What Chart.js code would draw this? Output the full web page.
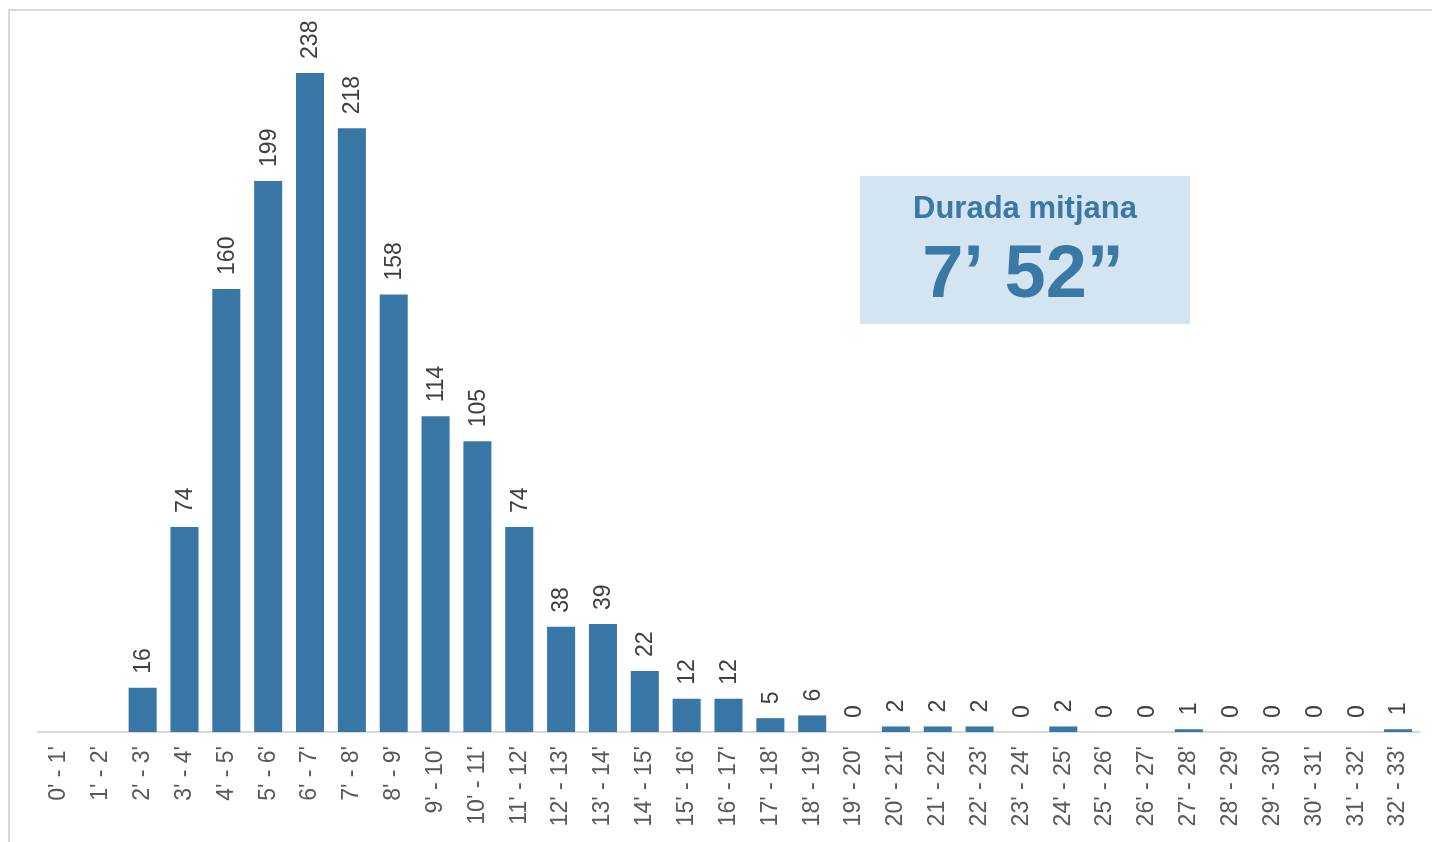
<!DOCTYPE html>
<html>
<head>
<meta charset="utf-8">
<script src="https://cdn.jsdelivr.net/npm/chart.js@4.4.1/dist/chart.umd.min.js"></script>
<style>
  html, body { margin: 0; padding: 0; background: #fff; }
  #wrap { width: 1432px; height: 842px; }
</style>
</head>
<body>
<div id="wrap"><canvas id="durades" width="1432" height="842"></canvas></div>
<script>
const categories = [
  "0' - 1'", "1' - 2'", "2' - 3'", "3' - 4'", "4' - 5'", "5' - 6'", "6' - 7'", "7' - 8'",
  "8' - 9'", "9' - 10'", "10' - 11'", "11' - 12'", "12' - 13'", "13' - 14'", "14' - 15'",
  "15' - 16'", "16' - 17'", "17' - 18'", "18' - 19'", "19' - 20'", "20' - 21'", "21' - 22'",
  "22' - 23'", "23' - 24'", "24' - 25'", "25' - 26'", "26' - 27'", "27' - 28'", "28' - 29'",
  "29' - 30'", "30' - 31'", "31' - 32'", "32' - 33'"
]
// first two intervals have no value in the source (no label shown)
const counts = [null, null, 16, 74, 160, 199, 238, 218, 158, 114, 105, 74, 38, 39, 22, 12, 12, 5, 6,
  0, 2, 2, 2, 0, 2, 0, 0, 1, 0, 0, 0, 0, 1]
const boxTitle = 'Durada mitjana'
const boxValue = '7\u2019 52\u201d'

const blue = '#3877a5'
const font = '"Liberation Sans", Arial, sans-serif'

// frame lines, value labels and the "durada mitjana" box
const extras = {
  id: 'extras',
  beforeDraw(chart) {
    const ctx = chart.ctx
    ctx.save()
    ctx.strokeStyle = '#d9d9d9'
    ctx.lineWidth = 2
    ctx.beginPath()
    ctx.moveTo(9, 842)
    ctx.lineTo(9, 10)
    ctx.lineTo(1432, 10)
    ctx.stroke()
    ctx.restore()
  },
  afterDatasetsDraw(chart) {
    const ctx = chart.ctx
    const meta = chart.getDatasetMeta(0)
    ctx.save()
    ctx.fillStyle = '#404040'
    ctx.font = '23px ' + font
    ctx.textAlign = 'left'
    ctx.textBaseline = 'middle'
    meta.data.forEach((bar, i) => {
      if (counts[i] === null) return
      ctx.save()
      ctx.translate(bar.x + 1, bar.y - 14)
      ctx.rotate(-Math.PI / 2)
      ctx.fillText(String(counts[i]), 0, 0)
      ctx.restore()
    })

    // box
    ctx.fillStyle = '#d5e4f1'
    ctx.fillRect(860, 176, 330, 148)
    ctx.fillStyle = '#3a78a5'
    ctx.textAlign = 'center'
    ctx.textBaseline = 'alphabetic'
    ctx.font = 'bold 31px ' + font
    ctx.fillText(boxTitle, 1025, 218)
    ctx.font = 'bold 74px ' + font
    ctx.fillText(boxValue, 1023, 297)
    ctx.restore()
  }
}

new Chart(document.getElementById('durades'), {
  type: 'bar',
  data: {
    labels: categories,
    datasets: [{
      data: counts,
      backgroundColor: blue,
      borderWidth: 0,
      categoryPercentage: 1,
      barPercentage: 0.67
    }]
  },
  options: {
    responsive: false,
    animation: false,
    layout: { padding: { left: 38, right: 13, top: 12, bottom: 0 } },
    plugins: {
      legend: { display: false },
      tooltip: { enabled: false }
    },
    scales: {
      x: {
        grid: { display: false, drawTicks: false },
        border: { display: true, color: '#d9d9d9', width: 2 },
        ticks: {
          autoSkip: false,
          maxRotation: 90,
          minRotation: 90,
          padding: 14,
          color: '#595959',
          font: { family: font, size: 23 }
        },
        afterFit(scale) {
          scale.height = 110
          scale.paddingLeft = 0
          scale.paddingRight = 0
        }
      },
      y: {
        display: false,
        min: 0,
        max: 260
      }
    }
  },
  plugins: [extras]
})
</script>
</body>
</html>
